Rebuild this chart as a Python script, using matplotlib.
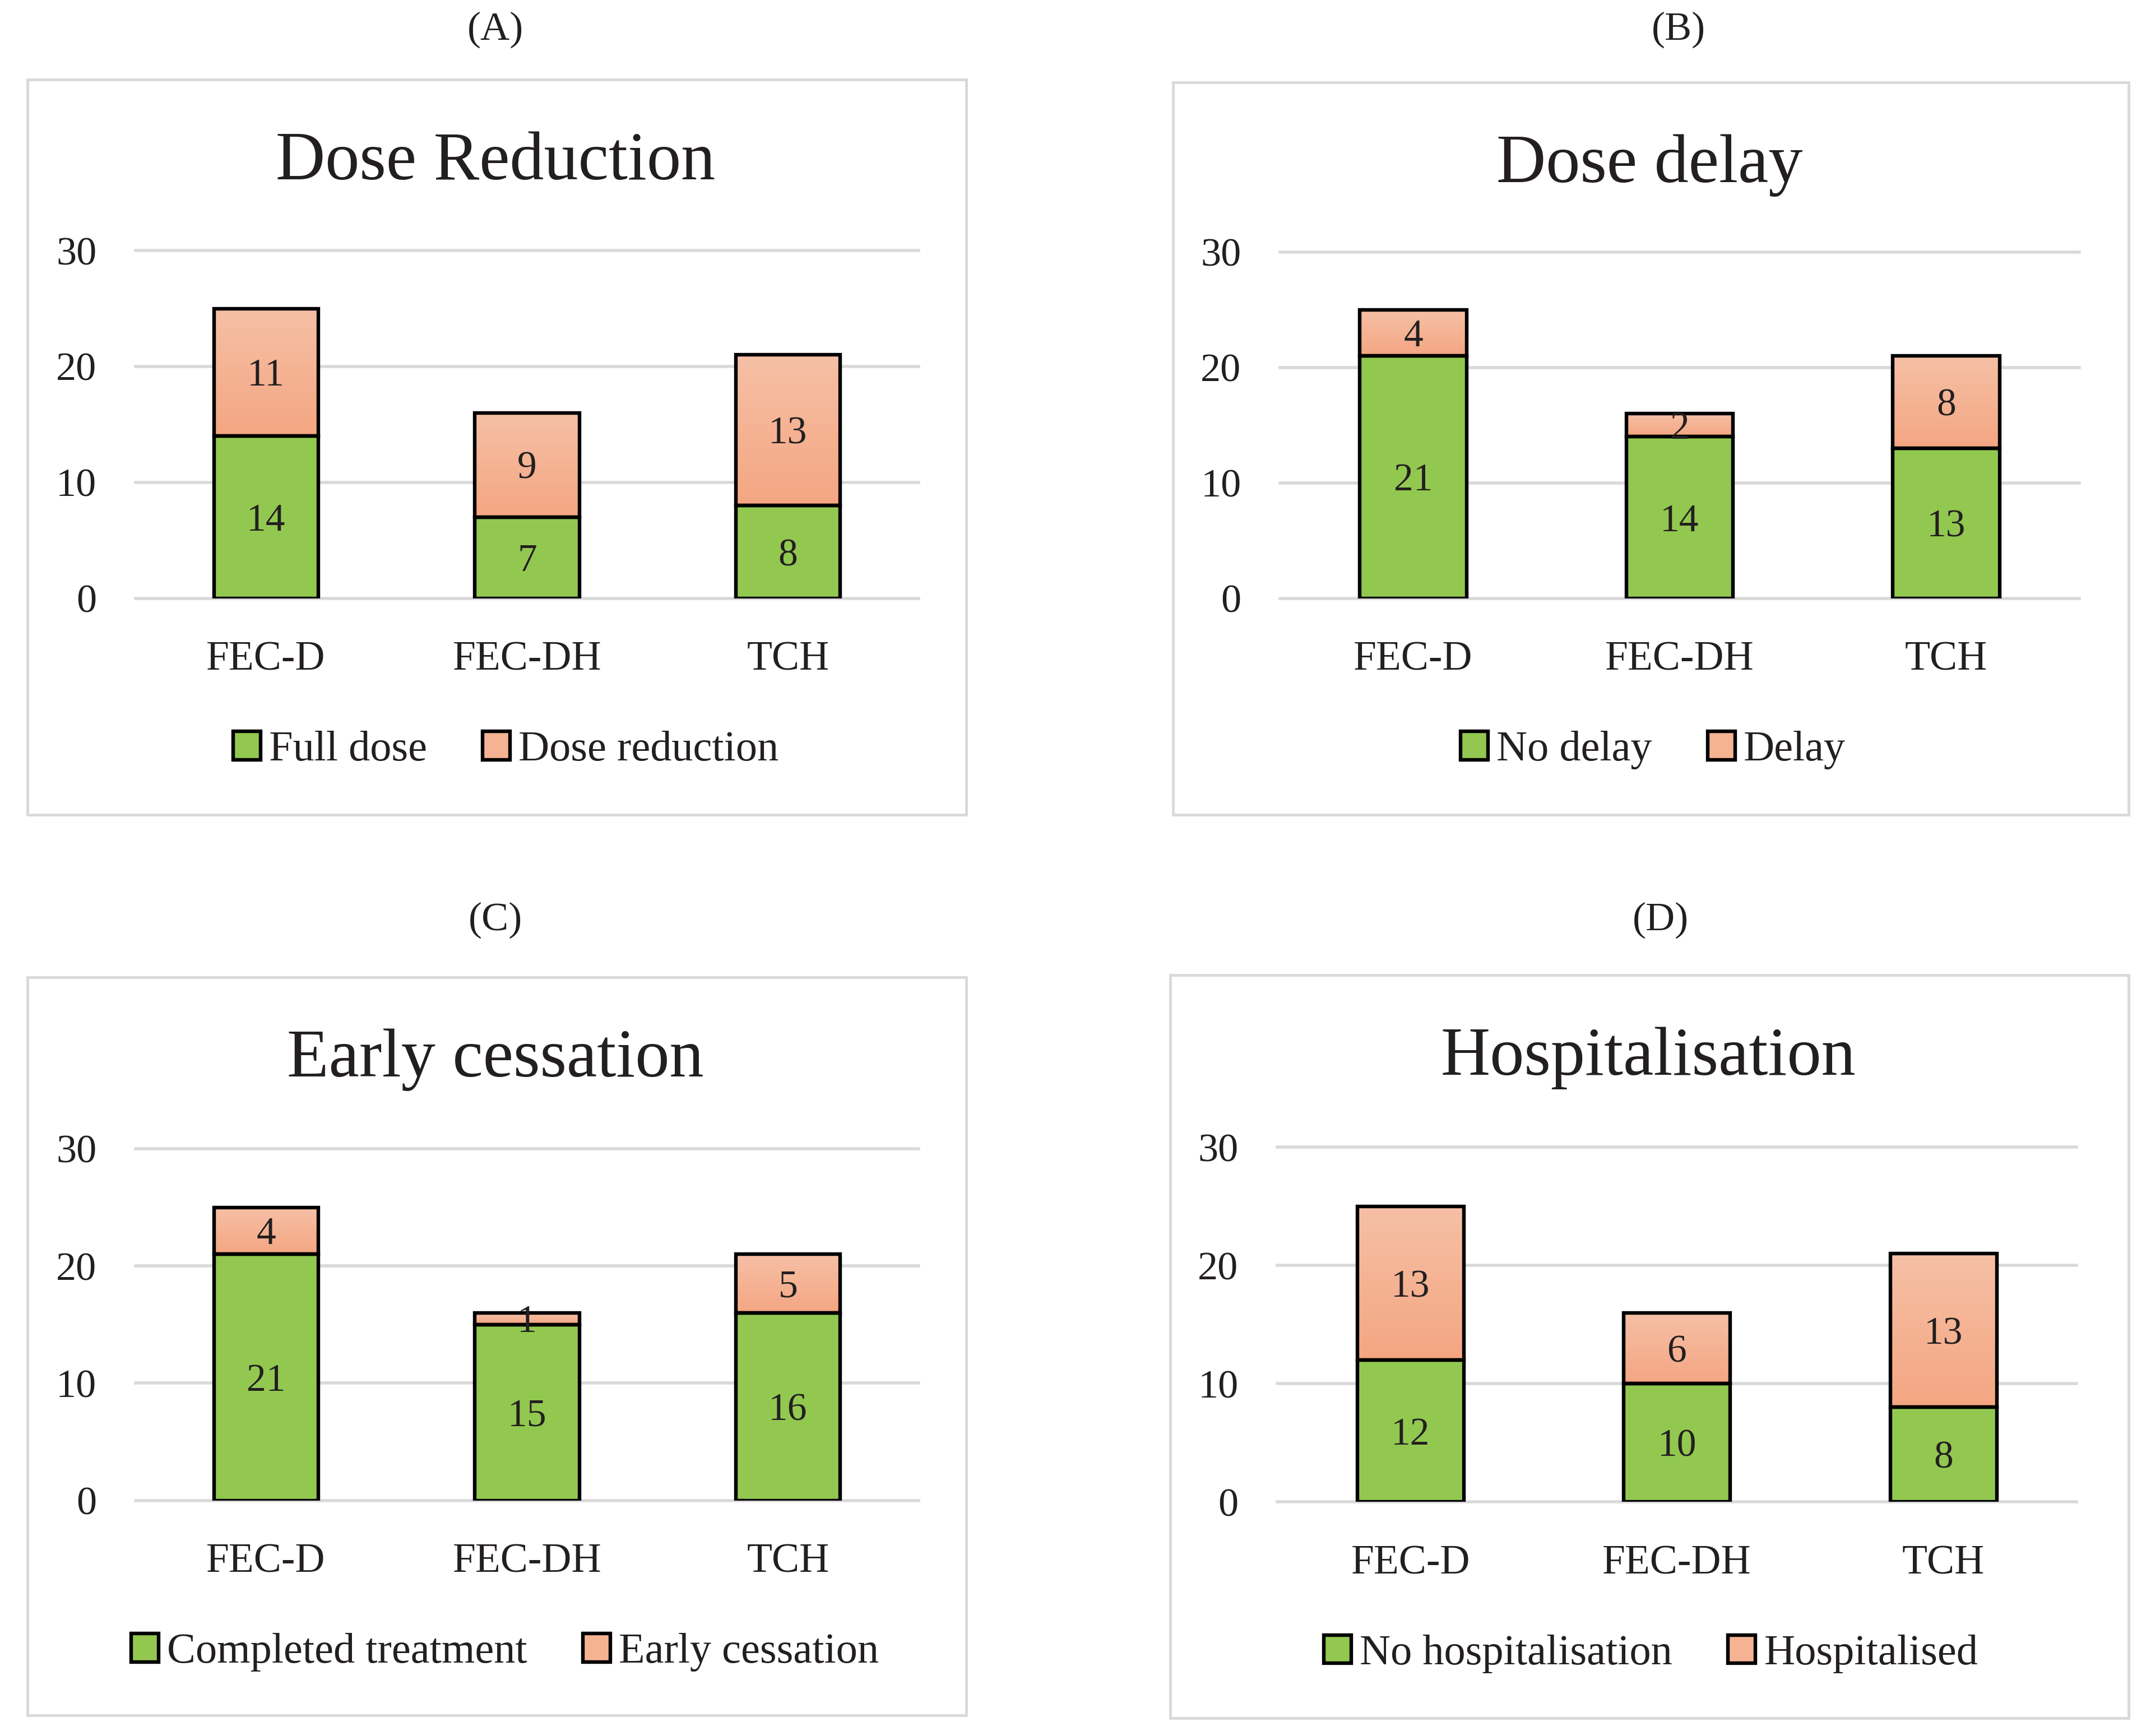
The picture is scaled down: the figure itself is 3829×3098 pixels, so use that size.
import matplotlib
matplotlib.use("Agg")
import matplotlib.pyplot as plt
import matplotlib.transforms as mtransforms
import numpy as np
from matplotlib.patches import Rectangle, Patch

plt.rcParams['font.family'] = ['Liberation Serif', 'DejaVu Serif']

categories = ["FEC-D", "FEC-DH", "TCH"]

panel_letters = ["(A)", "(B)", "(C)", "(D)"]
titles = ["Dose Reduction", "Dose delay", "Early cessation", "Hospitalisation"]
green_labels = ["Full dose", "No delay", "Completed treatment", "No hospitalisation"]
orange_labels = ["Dose reduction", "Delay", "Early cessation", "Hospitalised"]

green_A = [14, 7, 8]
orange_A = [11, 9, 13]
green_B = [21, 14, 13]
orange_B = [4, 2, 8]
green_C = [21, 15, 16]
orange_C = [4, 1, 5]
green_D = [12, 10, 8]
orange_D = [13, 6, 13]

greens = [green_A, green_B, green_C, green_D]
oranges = [orange_A, orange_B, orange_C, orange_D]

yticks = [0, 10, 20, 30]

TXT = '#231F20'
GREEN = '#92C850'
OR_TOP = np.array([246, 192, 166]) / 255.0
OR_BOT = np.array([244, 166, 130]) / 255.0
GRID = '#D9D9D9'

W, H = 1568.0, 1268.0
S = 3830.0 / W
fig = plt.figure(figsize=(38.3, 30.98), dpi=100)

def fx(x):
    return x / W

def fy(y):
    return 1 - y / H

# axes rectangles in display coords (left, top, right, bottom)
ax_boxes = [(99, 183, 671, 437), (935, 184, 1519, 437),
            (99, 839, 671, 1096), (933, 838, 1517, 1097)]
frames = [(20, 58, 706, 595), (857, 60, 1555, 595),
          (20, 714, 706, 1253), (855, 712, 1555, 1255)]
letter_pos = [(362, 22), (1226, 22), (362, 672), (1213, 672)]
title_pos = [(362, 119), (1205, 121), (362, 774), (1204, 773)]
legend_pos = [(369.5, 548), (1207.5, 548), (369, 1207), (1206, 1208)]

grad = np.linspace(0, 1, 256)[:, None]
grad_img = (OR_TOP[None, None, :] * (1 - grad[:, :, None]) + OR_BOT[None, None, :] * grad[:, :, None])

for i in range(4):
    l, t, r, b = ax_boxes[i]
    ax = fig.add_axes([fx(l), fy(b), fx(r) - fx(l), fy(t) - fy(b)])
    x = np.arange(len(categories))
    g = greens[i]
    o = oranges[i]
    bw = 0.4
    ax.bar(x, g, width=bw, color=GREEN, edgecolor='black', linewidth=4.6, zorder=3)
    obars = ax.bar(x, o, width=bw, bottom=g, facecolor='none', edgecolor='black',
                   linewidth=4.6, zorder=4)
    for j, p in enumerate(obars.patches):
        im = ax.imshow(grad_img, extent=[x[j] - bw / 2, x[j] + bw / 2, g[j], g[j] + o[j]],
                       aspect='auto', zorder=2.5, interpolation='bilinear', origin='upper')
        im.set_clip_path(p)
    lab_tr = mtransforms.offset_copy(ax.transData, fig=fig, x=0, y=-3 * S, units='dots')
    for j in range(len(categories)):
        ax.text(x[j], g[j] / 2, str(g[j]), ha='center', va='center', fontsize=50,
                color=TXT, zorder=5, transform=lab_tr)
        ax.text(x[j], g[j] + o[j] / 2, str(o[j]), ha='center', va='center', fontsize=50,
                color=TXT, zorder=5, transform=lab_tr)
    ax.set_xlim(-0.5, 2.5)
    ax.set_ylim(0, 30)
    ax.set_yticks(yticks)
    ax.set_xticks(x)
    ax.set_xticklabels(categories)
    ax.tick_params(axis='both', length=0, colors=TXT)
    ax.tick_params(axis='x', pad=55, labelsize=53)
    ax.tick_params(axis='y', pad=50, labelsize=52)
    for s in ax.spines.values():
        s.set_visible(False)
    ax.yaxis.grid(True, color=GRID, linewidth=4)
    ax.set_axisbelow(True)
    for gl in ax.get_ygridlines():
        gl.set_clip_on(False)

    handles = [Patch(facecolor=GREEN, edgecolor='black', linewidth=4.6),
               Patch(facecolor='#F5B394', edgecolor='black', linewidth=4.6)]
    lx, ly = legend_pos[i]
    leg = fig.legend(handles, [green_labels[i], orange_labels[i]], loc='center',
                     bbox_to_anchor=(fx(lx), fy(ly)), ncol=2, frameon=False,
                     fontsize=55, handlelength=0.64, handleheight=0.64,
                     handletextpad=0.2, columnspacing=1.3, borderpad=0, borderaxespad=0)
    for tx in leg.get_texts():
        tx.set_color(TXT)

    lx, ly = letter_pos[i]
    fig.text(fx(lx), fy(ly), panel_letters[i], ha='center', va='center', fontsize=52, color=TXT)
    tx_, ty_ = title_pos[i]
    fig.text(fx(tx_), fy(ty_), titles[i], ha='center', va='center', fontsize=88, color=TXT)

    fl, ft, fr, fb = frames[i]
    fig.patches.append(Rectangle((fx(fl), fy(fb)), fx(fr) - fx(fl), fy(ft) - fy(fb),
                                 transform=fig.transFigure, fill=False,
                                 edgecolor=GRID, linewidth=3.5))

fig.savefig('out.png', dpi=100)
